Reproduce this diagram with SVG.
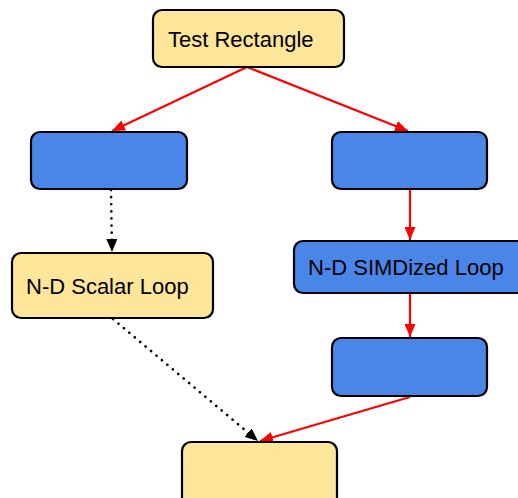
<svg xmlns="http://www.w3.org/2000/svg" width="518" height="498" viewBox="0 0 518 498">
<style>
.y{fill:#fde59a;stroke:#000;stroke-width:2.2}
.b{fill:#4a86e8;stroke:#000;stroke-width:2.2}
.t{font-family:"Liberation Sans",Arial,sans-serif;font-size:22px;fill:#000}
.r{stroke:#ff0000;stroke-width:2.2;fill:none}
.d{stroke:#000;stroke-width:2.6;fill:none;stroke-dasharray:0.1 7;stroke-linecap:round}
</style>
<defs>
<marker id="ar" viewBox="0 0 13 11" refX="13" refY="5.5" markerWidth="13" markerHeight="11" markerUnits="userSpaceOnUse" orient="auto"><path d="M0,0 L13,5.5 L0,11 Z" fill="#ff0000"/></marker>
<marker id="ak" viewBox="0 0 13 11" refX="13" refY="5.5" markerWidth="13" markerHeight="11" markerUnits="userSpaceOnUse" orient="auto"><path d="M0,0 L13,5.5 L0,11 Z" fill="#000"/></marker>
</defs>
<g id="connectors">
<line class="r" x1="247" y1="67" x2="112" y2="131" marker-end="url(#ar)"/>
<line class="r" x1="247" y1="67" x2="408" y2="131" marker-end="url(#ar)"/>
<line class="d" x1="111" y1="190" x2="112" y2="252" marker-end="url(#ak)"/>
<line class="r" x1="410" y1="190" x2="410" y2="240" marker-end="url(#ar)"/>
<line class="r" x1="410" y1="294" x2="410" y2="337" marker-end="url(#ar)"/>
<line class="r" x1="410" y1="397" x2="260" y2="441" marker-end="url(#ar)"/>
<line class="d" x1="113" y1="319" x2="258" y2="441" marker-end="url(#ak)"/>
</g>
<g id="test-rectangle">
<rect class="y" x="153" y="10" width="191" height="57" rx="9"/>
<text class="t" x="168" y="47">Test Rectangle</text>
</g>
<g id="left-blue">
<rect class="b" x="31" y="132" width="156" height="57" rx="9"/>
</g>
<g id="right-blue">
<rect class="b" x="332" y="132" width="155" height="57" rx="9"/>
</g>
<g id="scalar-loop">
<rect class="y" x="12" y="253" width="201" height="65" rx="9"/>
<text class="t" x="26" y="294">N-D Scalar Loop</text>
</g>
<g id="simd-loop">
<rect class="b" x="294" y="241" width="232" height="52" rx="9"/>
<text class="t" x="308" y="275">N-D SIMDized Loop</text>
</g>
<g id="right-blue-bottom">
<rect class="b" x="332" y="338" width="155" height="58" rx="9"/>
</g>
<g id="bottom">
<rect class="y" x="182" y="442" width="155" height="66" rx="9"/>
</g>
</svg>
